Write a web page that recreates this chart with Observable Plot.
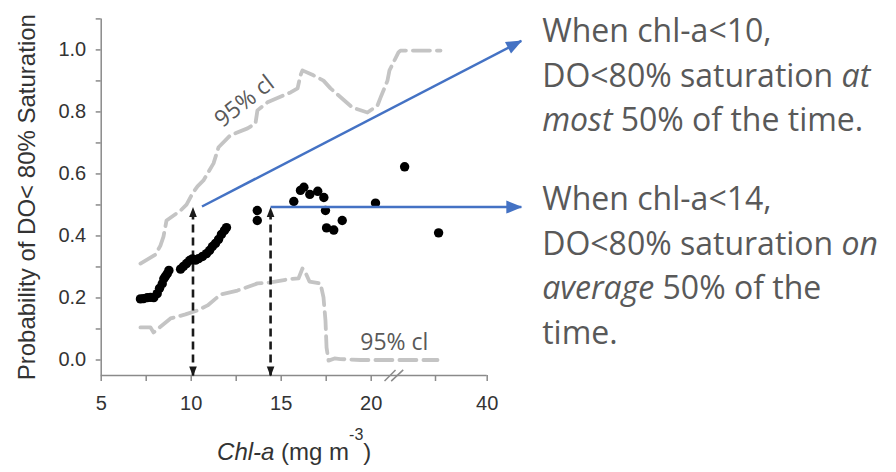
<!DOCTYPE html>
<html>
<head>
<meta charset="utf-8">
<script src="https://cdn.jsdelivr.net/npm/d3@7"></script>
<script src="https://cdn.jsdelivr.net/npm/@observablehq/plot@0.6"></script>
<style>
  html, body { margin: 0; padding: 0; background: #fff; }
  svg { display: block; }
</style>
</head>
<body>
<div id="chart"></div>
<script>
// ---- data ----
const dotX = [7.18,7.35,7.56,7.74,7.92,8.11,8.24,8.39,8.48,8.57,8.67,8.76,
  9.41,9.57,9.74,9.91,10.07,10.24,10.41,10.63,10.85,11.02,11.18,11.35,11.52,11.68,11.85,11.96,
  13.67,13.67,15.70,16.07,16.26,16.59,17.03,17.37,17.46,17.52,17.92,18.39,20.67,25.2,30.6];
const dotY = [0.197,0.198,0.201,0.202,0.201,0.214,0.231,0.246,0.262,0.270,0.278,0.289,
  0.293,0.302,0.311,0.321,0.326,0.322,0.327,0.334,0.343,0.353,0.366,0.376,0.389,0.405,0.418,0.427,
  0.482,0.450,0.511,0.547,0.557,0.534,0.544,0.524,0.482,0.426,0.419,0.450,0.506,0.623,0.410];

const upperX = [7.18,8.02,8.29,8.46,8.63,9.41,9.74,10.07,10.35,10.68,11.24,11.52,12.18,13.13,13.57,
  13.68,14.24,15.52,15.91,16.07,16.18,16.79,17.35,17.74,18.96,19.79,20.98,21.45,22.53,22.84,24.24,24.55,30.97];
const upperY = [0.311,0.340,0.369,0.398,0.450,0.482,0.501,0.537,0.560,0.579,0.634,0.686,0.725,0.747,0.763,
  0.805,0.831,0.863,0.876,0.918,0.934,0.918,0.901,0.876,0.814,0.798,0.821,0.846,0.901,0.934,0.992,0.998,0.998];

const lowerX = [7.18,7.74,7.91,8.18,8.85,9.68,10.35,10.91,11.63,12.57,13.68,14.41,15.35,15.96,16.18,
  16.35,16.57,17.18,17.35,17.46,17.52,17.63,17.96,18.29,19.41,30.39];
const lowerY = [0.105,0.105,0.089,0.102,0.134,0.147,0.160,0.176,0.211,0.224,0.247,0.250,0.260,0.263,0.295,
  0.282,0.253,0.247,0.202,0.127,0.040,-0.002,0.005,0.003,0.000,0.000];

// axis ticks
const xBreaks = [5, 20, 30, 40];           // piecewise (broken) x axis
const xTicks = [5, 7.5, 10, 12.5, 15, 17.5, 20, 30, 40];
const xTickLabels = [5, 10, 15, 20, 40];
const yTicks = [0, 0.1, 0.2, 0.3, 0.4, 0.5, 0.6, 0.7, 0.8, 0.9, 1.0, 1.1];
const yTickLabels = [0, 0.2, 0.4, 0.6, 0.8, 1.0];

// annotations
const thresholdX = [10.1, 14.41];
const thresholdTop = [0.49, 0.49];
const blueArrowX1 = [10.6, 14.41];
const blueArrowY1 = [0.495, 0.493];
const blueArrowX2 = [46.6, 46.6];
const blueArrowY2 = [1.029, 0.493];
const breakX1 = [22.07, 23.11], breakX2 = [23.78, 24.98];
const breakY1 = [-0.068, -0.068], breakY2 = [-0.032, -0.032];
const clLabelText = ["95% cl", "95% cl"];
const clLabelX = [12.96, 23.6];
const clLabelY = [0.834, 0.0545];
const clLabelRotate = [-38, 0];

const yTitle = "Probability of DO< 80% Saturation";
const xTitle = "*Chl-a* (mg m^-3^)";
const note1 = "When chl-a<10,\nDO<80% saturation *at*\n*most* 50% of the time.";
const note2 = "When chl-a<14,\nDO<80% saturation *on*\n*average* 50% of the\ntime.";

// ---- build tables ----
const points = dotX.map((x, i) => ({x, y: dotY[i]}));
const upper = upperX.map((x, i) => ({x, y: upperY[i]}));
const lower = lowerX.map((x, i) => ({x, y: lowerY[i]}));
const thresholds = thresholdX.map((x, i) => ({x, top: thresholdTop[i]}));
const blueArrows = blueArrowX1.map((x1, i) => ({x1, y1: blueArrowY1[i], x2: blueArrowX2[i], y2: blueArrowY2[i]}));
const breaks = breakX1.map((x1, i) => ({x1, x2: breakX2[i], y1: breakY1[i], y2: breakY2[i]}));
const clLabels = clLabelText.map((t, i) => ({text: t, x: clLabelX[i], y: clLabelY[i], rotate: clLabelRotate[i]}));

const sans = "'Liberation Sans', Arial, Helvetica, sans-serif";
const office = "'Open Sans', 'Noto Sans', sans-serif";
const axisGray = "#8a8a8a";

const chart = Plot.plot({
  width: 896,
  height: 472,
  marginLeft: 100.7,
  marginRight: 409.3,
  marginTop: 18.4,
  marginBottom: 97,
  style: {fontFamily: sans, background: "#fff", overflow: "visible"},
  x: {type: "linear", domain: xBreaks, range: [100.7, 370.7, 435, 486.7]},
  y: {domain: [-0.05, 1.1]},
  marks: [
    // confidence limits
    Plot.line(upper, {x: "x", y: "y", stroke: "#c4c4c4", strokeWidth: 3.8, strokeDasharray: "17,7"}),
    Plot.line(lower, {x: "x", y: "y", stroke: "#c4c4c4", strokeWidth: 3.8, strokeDasharray: "17,7"}),
    // axis lines
    Plot.ruleX([5], {y1: -0.05, y2: 1.1, stroke: axisGray, strokeWidth: 1.5}),
    Plot.ruleY([-0.05], {x1: 5, x2: 40, stroke: axisGray, strokeWidth: 1.5}),
    Plot.link(breaks, {x1: "x1", y1: "y1", x2: "x2", y2: "y2", stroke: axisGray, strokeWidth: 1.5}),
    Plot.axisY({ticks: yTicks, tickSize: 5, tickPadding: 10, label: null,
      tickFormat: d => yTickLabels.some(v => Math.abs(v - d) < 1e-9) ? d.toFixed(1) : "",
      stroke: axisGray, strokeWidth: 1.5, fill: "#333", fontSize: 20, fontFamily: sans}),
    Plot.axisX({ticks: xTicks, tickSize: 6, tickPadding: 14, label: null,
      tickFormat: d => xTickLabels.includes(d) ? String(d) : "",
      stroke: axisGray, strokeWidth: 1.5, fill: "#333", fontSize: 20, fontFamily: sans}),
    // threshold dashed arrows
    Plot.link(thresholds, {x1: "x", x2: "x", y1: -0.05, y2: "top", stroke: "#1a1a1a",
      strokeWidth: 2.6, strokeDasharray: "8,5", className: "darrow"}),
    // data
    Plot.dot(points, {x: "x", y: "y", r: 4.7, fill: "#000", stroke: "none"}),
    // blue arrows
    Plot.link(blueArrows, {x1: "x1", y1: "y1", x2: "x2", y2: "y2", stroke: "#4472C4",
      strokeWidth: 2.5, className: "barrow"}),
    // labels
    Plot.text(clLabels, {x: "x", y: "y", text: "text", rotate: "rotate", fontSize: 23,
      fontFamily: office, fill: "#595959"}),
    Plot.text([yTitle], {frameAnchor: "left", textAnchor: "middle", lineAnchor: "middle",
      dx: -73.7, rotate: -90, fontSize: 24, fontFamily: sans, fill: "#333"}),
    Plot.text([xTitle], {frameAnchor: "bottom", textAnchor: "middle", lineAnchor: "middle",
      dy: 77.3, fontSize: 24, fontFamily: sans, fill: "#333", className: "rich"}),
    Plot.text([note1], {frameAnchor: "top-right", textAnchor: "start", lineAnchor: "top",
      dx: 55, dy: -8, lineHeight: 1.39, fontSize: 32, fontFamily: office, fill: "#595959", className: "rich"}),
    Plot.text([note2], {frameAnchor: "top-right", textAnchor: "start", lineAnchor: "top",
      dx: 55, dy: 160, lineHeight: 1.39, fontSize: 32, fontFamily: office, fill: "#595959", className: "rich"})
  ]
});

document.getElementById("chart").appendChild(chart);

// ---- post-processing: arrowheads and rich text (italic / superscript) ----
const NS = "http://www.w3.org/2000/svg";
const svg = d3.select(chart.tagName.toLowerCase() === "svg" ? chart : chart.querySelector("svg"));
const defs = svg.insert("defs", ":first-child");
defs.append("marker").attr("id", "bhead").attr("markerUnits", "userSpaceOnUse")
  .attr("markerWidth", 20).attr("markerHeight", 20).attr("orient", "auto")
  .attr("refX", 0).attr("refY", 0).attr("overflow", "visible")
  .append("path").attr("d", "M1,0L-15,-6.5L-15,6.5Z").attr("fill", "#4472C4").attr("stroke", "none");
defs.append("marker").attr("id", "dhead").attr("markerUnits", "userSpaceOnUse")
  .attr("markerWidth", 12).attr("markerHeight", 12).attr("orient", "auto-start-reverse")
  .attr("refX", 0).attr("refY", 0).attr("overflow", "visible")
  .append("path").attr("d", "M1,0L-9,-3.8L-9,3.8Z").attr("fill", "#1a1a1a").attr("stroke", "none");
svg.selectAll(".barrow path, .barrow line").attr("marker-end", "url(#bhead)");
svg.selectAll(".darrow path, .darrow line").attr("marker-start", "url(#dhead)").attr("marker-end", "url(#dhead)");

function richify(el) {
  const s = el.textContent;
  while (el.firstChild) el.removeChild(el.firstChild);
  const parts = s.split(/(\*[^*]+\*|\^[^^]+\^)/g).filter(p => p);
  let raised = false;
  for (const p of parts) {
    const t = document.createElementNS(NS, "tspan");
    if (p[0] === "*") {
      t.setAttribute("font-style", "italic");
      t.textContent = p.slice(1, -1);
    } else if (p[0] === "^") {
      t.setAttribute("font-size", "16");
      t.setAttribute("dy", "-20");
      t.textContent = p.slice(1, -1);
      raised = true;
    } else {
      t.textContent = p;
      if (raised) { t.setAttribute("dy", "20"); raised = false; }
    }
    el.appendChild(t);
  }
}
svg.selectAll(".rich text").each(function () {
  const lines = Array.from(this.children).filter(c => c.tagName === "tspan");
  if (lines.length) lines.forEach(richify); else richify(this);
});
</script>
</body>
</html>
